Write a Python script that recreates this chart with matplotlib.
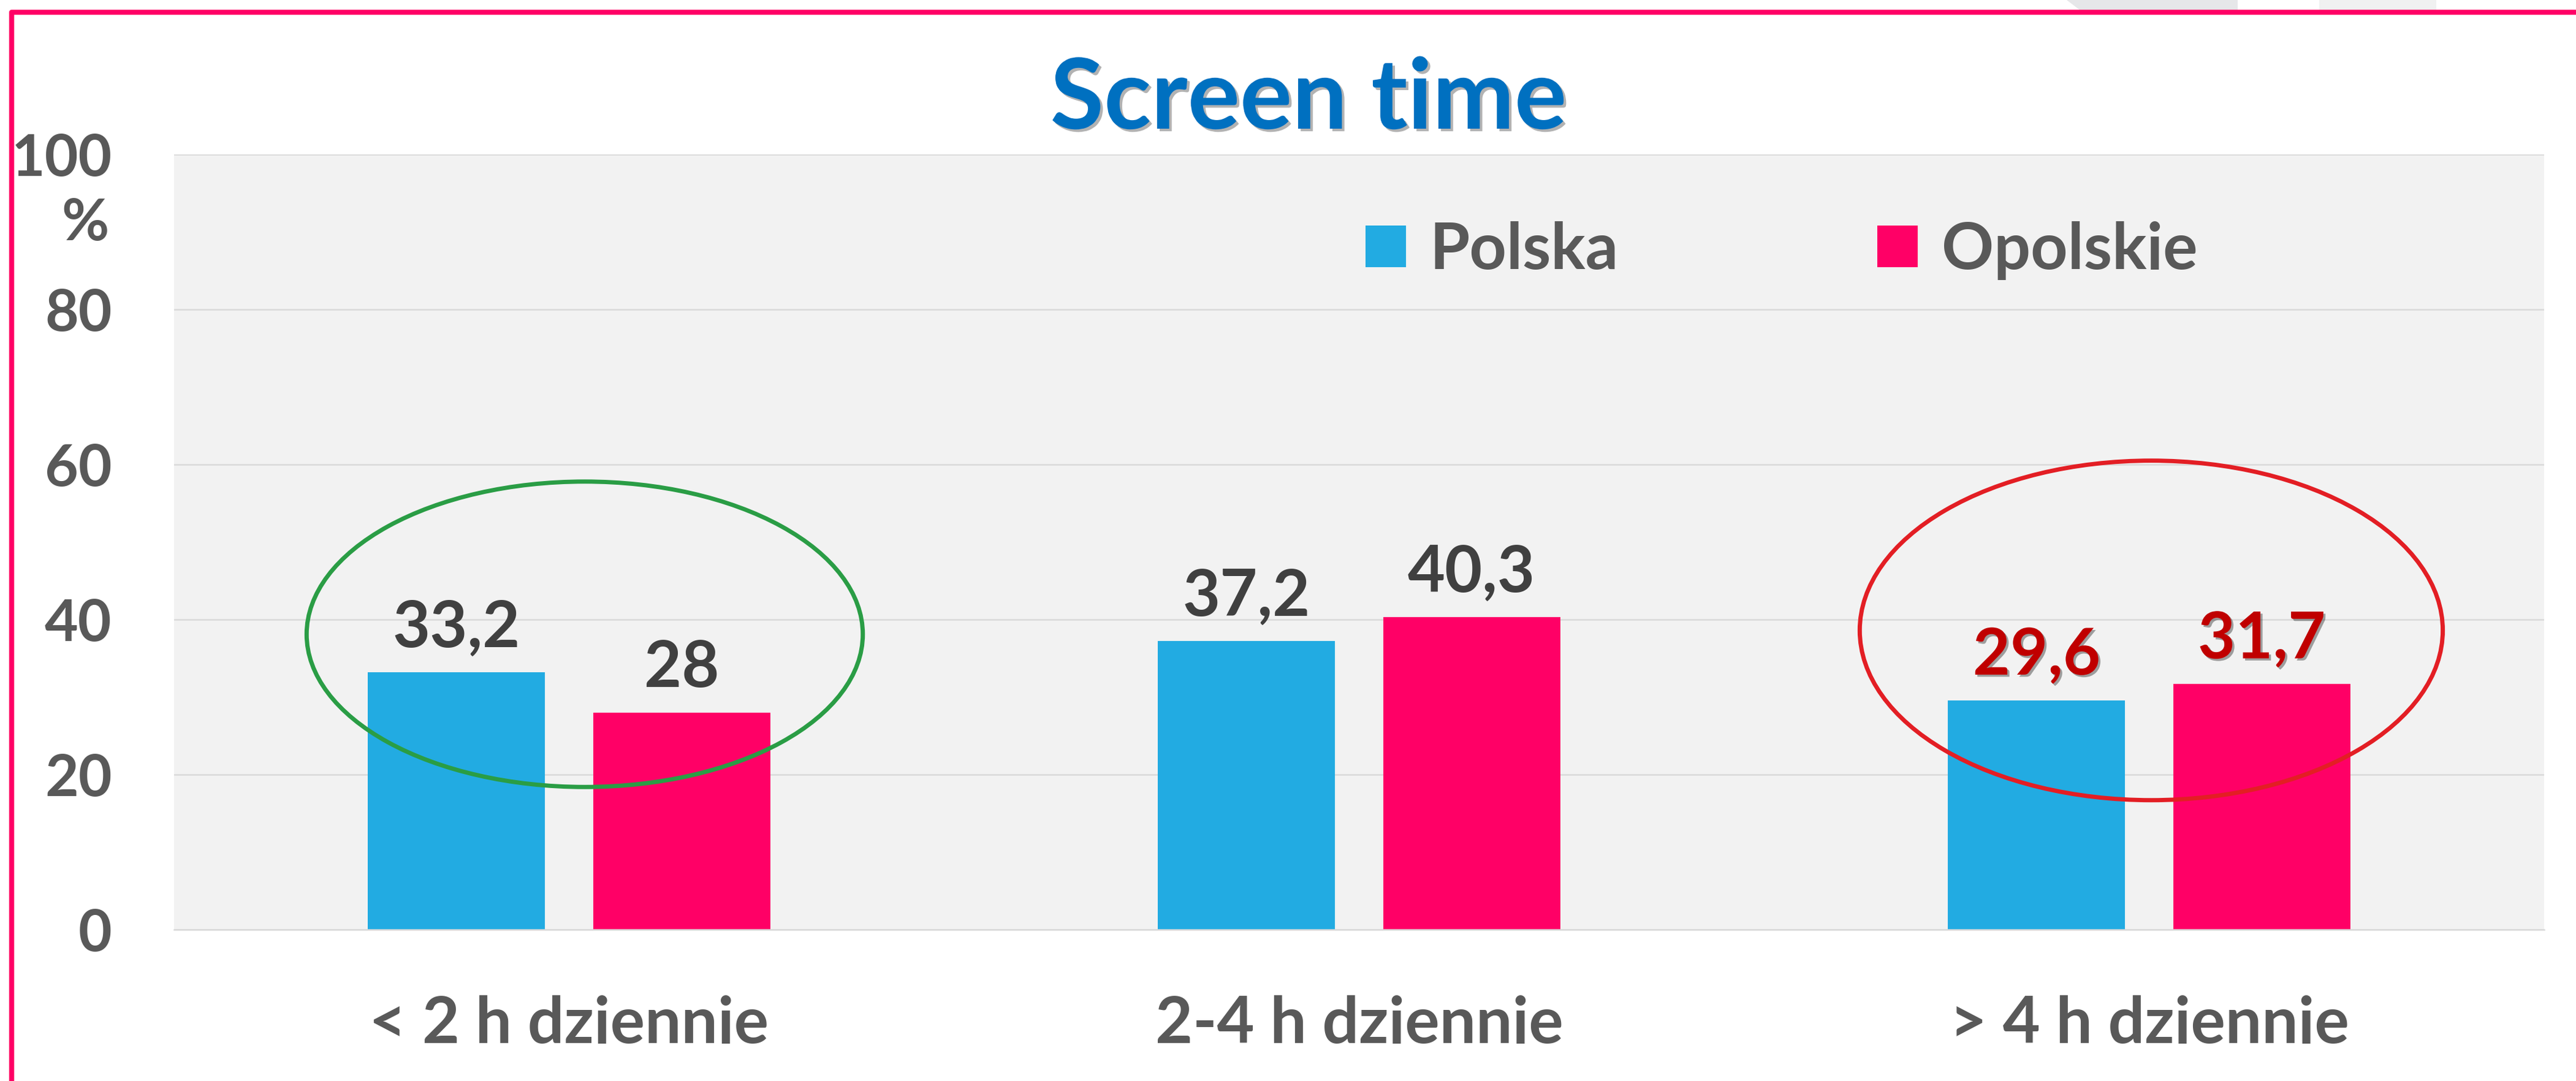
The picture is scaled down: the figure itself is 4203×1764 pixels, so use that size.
import matplotlib.pyplot as plt
import matplotlib.patheffects as pe
from matplotlib.patches import Ellipse, Rectangle, Polygon
from matplotlib.lines import Line2D

# dane
kategorie = ["< 2 h dziennie", "2-4 h dziennie", "> 4 h dziennie"]
polska = [33.2, 37.2, 29.6]
opolskie = [28, 40.3, 31.7]
etykiety_polska = ["33,2", "37,2", "29,6"]
etykiety_opolskie = ["28", "40,3", "31,7"]
y_ticks = [0, 20, 40, 60, 80, 100]

NIEBIESKI = "#22ABE2"
ROZOWY = "#FF0066"
SZARY_TXT = "#595959"
FONT = "Lato"

W, H = 4203, 1764
fig = plt.figure(figsize=(W / 100, H / 100), dpi=100)
fig.patch.set_facecolor("white")

# tlo slajdu nad ramka
fig.patches.append(Polygon([(3372 / W, 1), (3651 / W, 1), (3651 / W, 1 - 16 / H), (3393 / W, 1 - 16 / H)],
                           closed=True, transform=fig.transFigure, facecolor="#E6E7E9", edgecolor="none"))
fig.patches.append(Rectangle((3784 / W, 1 - 16 / H), 191 / W, 16 / H, transform=fig.transFigure,
                             facecolor="#F0F1F1", edgecolor="none"))

# rozowa ramka
fig.lines.append(Line2D([19 / W, 19 / W, 1.0], [0.0, 1 - 20 / H, 1 - 20 / H], transform=fig.transFigure,
                        color=ROZOWY, linewidth=6, solid_joinstyle="round"))

ax = fig.add_axes([284 / W, (H - 1517) / H, 3867 / W, 1265 / H])
ax.set_facecolor("#F2F2F2")

x = list(range(len(kategorie)))
szer = 0.224
off = 0.1425
b1 = ax.bar([i - off for i in x], polska, szer, color=NIEBIESKI, label="Polska", zorder=2)
b2 = ax.bar([i + off for i in x], opolskie, szer, color=ROZOWY, label="Opolskie", zorder=2)

ax.set_xlim(-0.5, 2.5)
ax.set_ylim(0, 100)
ax.set_yticks(y_ticks)
ax.set_yticklabels([str(t) for t in y_ticks])
ax.set_xticks(x)
ax.set_xticklabels(kategorie)
ax.tick_params(axis="both", length=0, labelcolor=SZARY_TXT)
ax.tick_params(axis="y", pad=73, labelsize=68)
ax.tick_params(axis="x", pad=77, labelsize=76)
for lab in ax.get_xticklabels() + ax.get_yticklabels():
    lab.set_fontfamily(FONT)
    lab.set_fontweight("bold")

ax.grid(axis="y", color="#D9D9D9", linewidth=1.8, zorder=0)
ax.set_axisbelow(True)
for s in ["top", "right", "left"]:
    ax.spines[s].set_visible(False)
ax.spines["bottom"].set_color("#D9D9D9")
ax.spines["bottom"].set_linewidth(1.8)

ax.text(-0.0274, 88.9, "%", transform=ax.get_yaxis_transform(), ha="right", va="baseline",
        fontsize=68, fontweight="bold", family=FONT, color=SZARY_TXT)

# etykiety wartosci
cien = [pe.withSimplePatchShadow(offset=(2.5, -2.5), shadow_rgbFace="#000000", alpha=0.35)]
for i in x:
    kolor = "#C00000" if i == 2 else "#404040"
    efekt = cien if i == 2 else None
    ax.annotate(etykiety_polska[i], (i - off, polska[i]), xytext=(0, 30), textcoords="offset points",
                ha="center", va="baseline", fontsize=76, fontweight="bold", family=FONT,
                color=kolor, path_effects=efekt, zorder=4)
    ax.annotate(etykiety_opolskie[i], (i + off, opolskie[i]), xytext=(0, 30), textcoords="offset points",
                ha="center", va="baseline", fontsize=76, fontweight="bold", family=FONT,
                color=kolor, path_effects=efekt, zorder=4)

# owale
ax.add_patch(Ellipse((0.0198, 38.1), 0.704, 39.4, fill=False, edgecolor="#2A9D45", linewidth=5, zorder=3))
ax.add_patch(Ellipse((2.0027, 38.6), 0.738, 43.8, fill=False, edgecolor="#E31E24", linewidth=5, zorder=3))

# legenda
leg = ax.legend(handles=[b1, b2], loc="center left", bbox_to_anchor=(0.5027, 0.876), ncol=2,
                frameon=False, borderpad=0, borderaxespad=0, handlelength=0.625, handleheight=0.62,
                handletextpad=0.37, columnspacing=4.0,
                prop={"family": FONT, "weight": "bold", "size": 76})
for t in leg.get_texts():
    t.set_color(SZARY_TXT)

# tytul
fig.text(0.508, 1 - 210 / H, "Screen time", ha="center", va="baseline", fontsize=115,
         fontweight="bold", family=FONT, color="#0070C0",
         path_effects=[pe.withSimplePatchShadow(offset=(3, -3), shadow_rgbFace="#000000", alpha=0.3)])

fig.savefig("out.png", dpi=100)
